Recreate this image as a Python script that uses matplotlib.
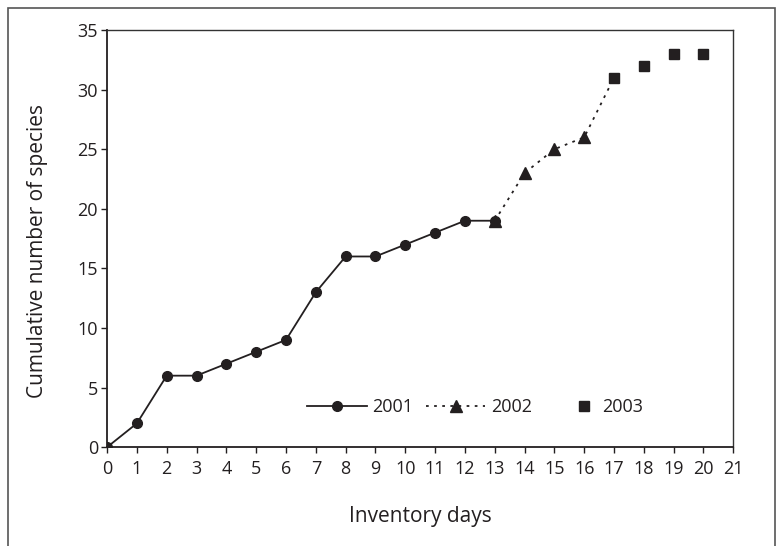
import matplotlib
matplotlib.use("Agg")
import matplotlib.pyplot as plt
from matplotlib.patches import Rectangle

# cumulative species per inventory day
days_2001 = [0, 1, 2, 3, 4, 5, 6, 7, 8, 9, 10, 11, 12, 13]
spp_2001 = [0, 2, 6, 6, 7, 8, 9, 13, 16, 16, 17, 18, 19, 19]
days_2002 = [13, 14, 15, 16, 17]
spp_2002 = [19, 23, 25, 26, 31]
days_2003 = [17, 18, 19, 20]
spp_2003 = [31, 32, 33, 33]

INK = "#231f20"
plt.rcParams["font.family"] = ["Open Sans", "DejaVu Sans"]

fig = plt.figure(figsize=(7.76, 5.46), dpi=100)
ax = fig.add_axes([0.138, 0.181, 0.807, 0.764])

# outer frame (bottom edge falls outside the picture)
fig.add_artist(Rectangle((8 / 776, -0.02), 767 / 776, 1 - 8 / 546 + 0.02,
                         transform=fig.transFigure, fill=False,
                         edgecolor="#555555", lw=1.2))

l1, = ax.plot(days_2001, spp_2001, color=INK, lw=1.3, marker="o", ms=7,
              label="2001", zorder=3)
l2, = ax.plot(days_2002, spp_2002, color=INK, lw=1.3, ls=(0, (1.5, 3)),
              marker="^", ms=8, markevery=[0, 1, 2, 3], label="2002", zorder=2)
l3, = ax.plot(days_2003, spp_2003, color=INK, ls="none", marker="s", ms=7.5,
              label="2003", zorder=3)

ax.set_xlim(0, 21)
ax.set_ylim(0, 35)
ax.set_xticks(range(0, 22))
ax.set_yticks(range(0, 36, 5))
ax.tick_params(axis="both", direction="out", length=4.5, width=1, colors=INK,
               labelsize=13)
ax.tick_params(axis="x", pad=5)
ax.tick_params(axis="y", pad=2)
for side in ["left", "bottom"]:
    ax.spines[side].set_color(INK)
    ax.spines[side].set_linewidth(1.3)
for side in ["top", "right"]:
    ax.spines[side].set_color("#333333")
    ax.spines[side].set_linewidth(1.0)

ax.set_xlabel("Inventory days", fontsize=15, color=INK, labelpad=20)
ax.set_ylabel("Cumulative number of species", fontsize=15, color=INK)
ax.yaxis.set_label_coords(-0.094, 0.47)

# two legends so the marker-only entry gets a short handle
leg_y = 0.096
leg1 = ax.legend(handles=[l1, l2], loc="center left",
                 bbox_to_anchor=((307 - 107) / 626, leg_y), ncol=2,
                 frameon=False, fontsize=13, handlelength=3.3,
                 columnspacing=0.7, handletextpad=0.3, borderpad=0,
                 borderaxespad=0, labelcolor=INK)
ax.add_artist(leg1)
ax.legend(handles=[l3], loc="center left",
          bbox_to_anchor=((575 - 107) / 626, leg_y), frameon=False,
          fontsize=13, handlelength=1, handletextpad=0.5, borderpad=0,
          borderaxespad=0, labelcolor=INK)

fig.savefig("out.png", dpi=100)
